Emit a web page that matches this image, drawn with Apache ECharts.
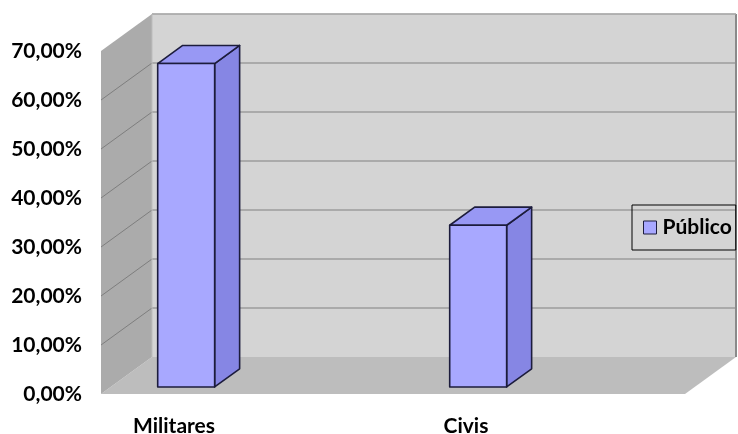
<!DOCTYPE html>
<html>
<head>
<meta charset="utf-8">
<script src="https://cdn.jsdelivr.net/npm/echarts@6/dist/echarts.min.js"></script>
<style>
  html, body { margin: 0; padding: 0; background: #ffffff; }
  #chart { width: 738px; height: 434px; }
</style>
</head>
<body>
<div id="chart"></div>
<script>
// Share of each audience (percent)
const categories = ['Militares', 'Civis'];
const seriesName = 'Público';
const publicoValues = [66, 33];
const yTicks = [0, 10, 20, 30, 40, 50, 60, 70];

// Oblique projection of the box: vector from the front plane to the back wall
const DEPTH_X = 51;
const DEPTH_Y = -37;
// Bar depth span (fraction of the box depth) and footprint inside its band
const BAR_FRONT = 0.19;
const BAR_BACK = 0.68;
const BAR_RATIO = 0.39;
const BAR_SHIFT = 0.017;

const FONT = 'Lato, "Open Sans", "Liberation Sans", sans-serif';

// Each category sits in its own band followed by an empty spacer band
const axisCategories = categories.flatMap(c => [c, '']);
const barData = publicoValues.map((v, i) => [i * 2, v]);

function renderWalls(params, api) {
  const cs = params.coordSys;
  const L = cs.x, R = cs.x + cs.width;
  const T = api.coord([0, yTicks[yTicks.length - 1]])[1];
  const B = api.coord([0, yTicks[0]])[1];
  const dx = DEPTH_X, dy = DEPTH_Y;
  const children = [];
  // floor
  children.push({ type: 'polygon', shape: { points: [[L, B], [L + dx, B + dy], [R + dx, B + dy], [R, B]] },
    style: { fill: '#bdbdbd' } });
  // left wall
  children.push({ type: 'polygon', shape: { points: [[L, T], [L + dx, T + dy], [L + dx, B + dy], [L, B]] },
    style: { fill: '#ababab' } });
  // back wall
  children.push({ type: 'rect', shape: { x: L + dx, y: T + dy, width: R - L, height: B - T },
    style: { fill: '#d4d4d4' } });
  // gridlines on back and left walls
  yTicks.forEach(t => {
    const y = api.coord([0, t])[1];
    if (t !== yTicks[0]) {
      children.push({ type: 'line', shape: { x1: L + dx, y1: y + dy, x2: R + dx, y2: y + dy },
        style: { stroke: '#9c9c9c', lineWidth: 1.5 } });
    }
    if (t !== yTicks[0] && t !== yTicks[yTicks.length - 1]) {
      children.push({ type: 'line', shape: { x1: L, y1: y, x2: L + dx, y2: y + dy },
        style: { stroke: '#7e7e7e', lineWidth: 1 } });
    }
  });
  // wall edges
  children.push({ type: 'line', shape: { x1: L + dx, y1: T + dy, x2: L + dx, y2: B + dy },
    style: { stroke: '#bcbcbc', lineWidth: 1 } });
  children.push({ type: 'line', shape: { x1: R + dx, y1: T + dy, x2: R + dx, y2: B + dy },
    style: { stroke: '#8a8a8a', lineWidth: 2 } });
  children.push({ type: 'line', shape: { x1: L + dx, y1: T + dy, x2: R + dx, y2: T + dy },
    style: { stroke: '#b4b4b4', lineWidth: 1 } });
  return { type: 'group', children };
}

function renderBar(params, api) {
  const cat = api.value(0), v = api.value(1);
  const band = api.size([1, 0])[0];
  const base = api.coord([cat, 0]);
  const top = api.coord([cat, v]);
  const w = band * BAR_RATIO;
  const cx = base[0] + band * BAR_SHIFT;
  const fx = DEPTH_X * BAR_FRONT, fy = DEPTH_Y * BAR_FRONT;
  const dx = DEPTH_X * (BAR_BACK - BAR_FRONT), dy = DEPTH_Y * (BAR_BACK - BAR_FRONT);
  const x0 = cx - w / 2 + fx, x1 = cx + w / 2 + fx;
  const yb = base[1] + fy, yt = top[1] + fy;
  const edge = { stroke: '#1c1c3c', lineWidth: 1.6, lineJoin: 'round' };
  return {
    type: 'group',
    children: [
      { type: 'polygon', shape: { points: [[x1, yt], [x1 + dx, yt + dy], [x1 + dx, yb + dy], [x1, yb]] },
        style: Object.assign({ fill: '#8686e4' }, edge) },
      { type: 'polygon', shape: { points: [[x0, yt], [x0 + dx, yt + dy], [x1 + dx, yt + dy], [x1, yt]] },
        style: Object.assign({ fill: '#9898f4' }, edge) },
      { type: 'rect', shape: { x: x0, y: yt, width: w, height: yb - yt },
        style: Object.assign({ fill: '#a8a8ff' }, edge) }
    ]
  };
}

const chart = echarts.init(document.getElementById('chart'), null, { renderer: 'canvas' });
chart.setOption({
  animation: false,
  backgroundColor: '#ffffff',
  grid: { left: 101, right: 53, top: 51, bottom: 40, containLabel: false, outerBoundsMode: 'none' },
  legend: {
    data: [seriesName],
    left: 632, top: 205,
    orient: 'vertical',
    padding: [12, 4, 12, 11],
    borderColor: '#000000', borderWidth: 1,
    itemWidth: 13, itemHeight: 13, itemGap: 6,
    icon: 'rect',
    itemStyle: { color: '#a8a8ff', borderColor: '#1c1c3c', borderWidth: 1 },
    textStyle: { fontFamily: FONT, fontWeight: 'bold', fontSize: 21, color: '#000000', padding: [0, 0, 0, 1] }
  },
  xAxis: {
    type: 'category',
    data: axisCategories,
    axisLine: { show: false }, axisTick: { show: false }, splitLine: { show: false },
    axisLabel: { margin: 22, fontFamily: FONT, fontWeight: 'bold', fontSize: 21, color: '#000000', interval: 0 }
  },
  yAxis: {
    type: 'value', min: 0, max: 70, interval: 10,
    axisLine: { show: false }, axisTick: { show: false }, splitLine: { show: false },
    axisLabel: {
      margin: 19, fontFamily: FONT, fontWeight: 'bold', fontSize: 21, color: '#000000',
      padding: [5, 0, 0, 0],
      formatter: v => v.toFixed(2).replace('.', ',') + '%'
    }
  },
  series: [
    { type: 'custom', name: 'walls', renderItem: renderWalls, data: [[0, 0]], clip: false, silent: true, z: 1 },
    { type: 'custom', name: seriesName, renderItem: renderBar, data: barData, clip: false, z: 2,
      encode: { x: 0, y: 1 }, itemStyle: { color: '#a8a8ff' } }
  ]
});
</script>
</body>
</html>
